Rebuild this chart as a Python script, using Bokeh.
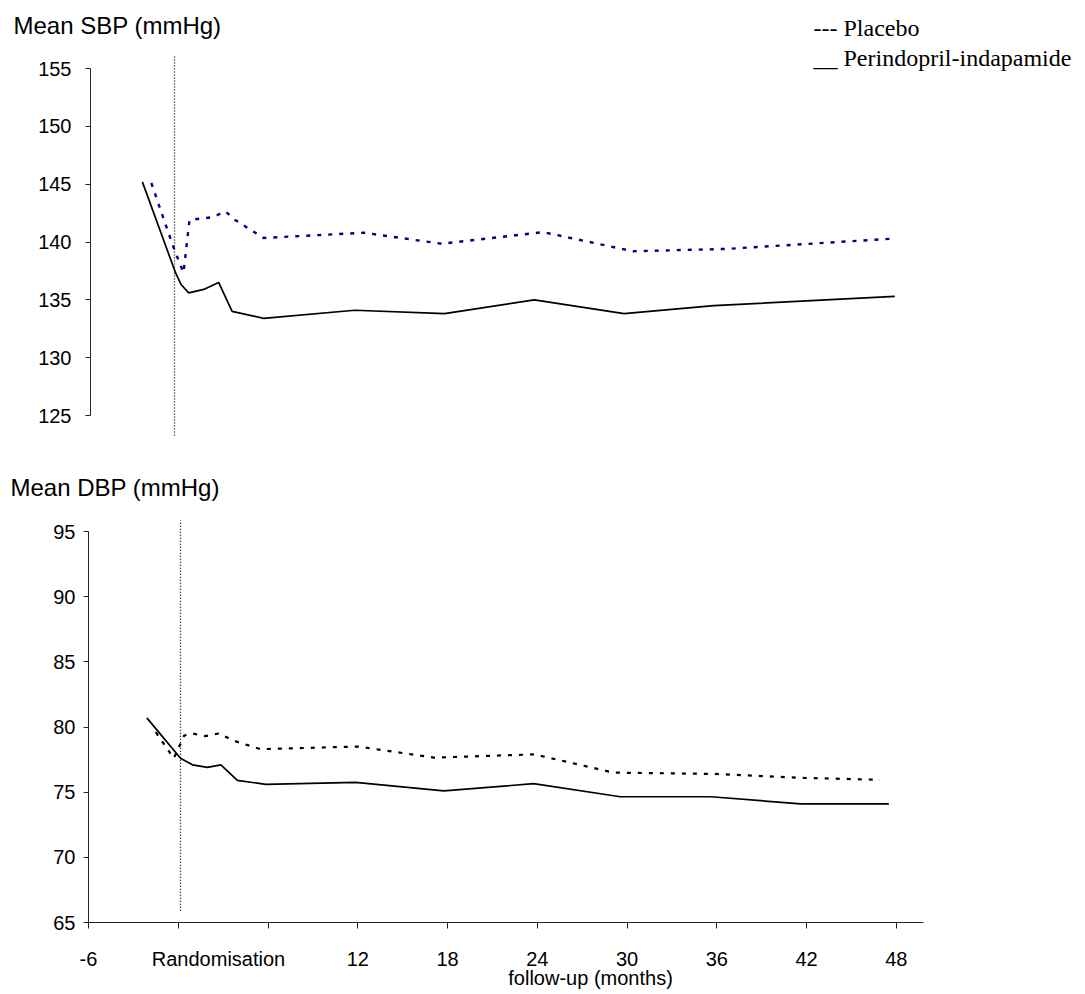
from bokeh.plotting import figure
from bokeh.models import FixedTicker, Label, Range1d, LinearAxis
from bokeh.embed import file_html
from bokeh.resources import INLINE

# ---------------- data ----------------
# Systolic BP (top panel)
sbp_active_x = [-2.4, -0.2, 0.2, 0.7, 1.7, 2.7, 3.6, 5.7, 11.8, 17.8, 23.8, 29.8, 35.8, 47.9]
sbp_active_y = [145.2, 137.4, 136.3, 135.6, 135.9, 136.5, 134.0, 133.4, 134.1, 133.8, 135.0, 133.8, 134.5, 135.3]
sbp_placebo_x = [-1.8, -0.75, -0.25, 0.35, 0.75, 2.3, 3.15, 3.8, 5.7, 12.4, 17.6, 24.4, 30.4, 36.6, 47.9]
sbp_placebo_y = [145.1, 141.15, 139.3, 137.35, 141.9, 142.15, 142.65, 141.9, 140.35, 140.8, 139.85, 140.85, 139.2, 139.4, 140.3]

# Diastolic BP (bottom panel)
dbp_active_x = [-2.1, 0.15, 0.95, 1.95, 2.85, 3.95, 5.85, 11.85, 17.75, 23.75, 29.55, 35.6, 41.6, 47.5]
dbp_active_y = [80.7, 77.6, 77.1, 76.9, 77.1, 75.9, 75.6, 75.75, 75.1, 75.65, 74.65, 74.65, 74.1, 74.1]
dbp_placebo_x = [-1.5, -0.3, 0.4, 0.95, 1.8, 2.7, 3.7, 5.5, 12.0, 17.1, 23.8, 29.1, 35.8, 41.6, 46.9]
dbp_placebo_y = [79.6, 77.6, 79.35, 79.5, 79.3, 79.5, 78.95, 78.3, 78.5, 77.65, 77.9, 76.5, 76.4, 76.1, 75.95]

x_ticks = [-6, 0, 6, 12, 18, 24, 30, 36, 42, 48]
x_label_ticks = [-6, 12, 18, 24, 30, 36, 42, 48]
sbp_ticks = [125, 130, 135, 140, 145, 150, 155]
dbp_ticks = [65, 70, 75, 80, 85, 90, 95]

label_randomisation = "Randomisation"
label_x = "follow-up (months)"
title_sbp = "Mean SBP (mmHg)"
title_dbp = "Mean DBP (mmHg)"
legend_placebo = "---  Placebo"
legend_active = "__ Perindopril-indapamide"

# ---------------- layout constants (page pixels) ----------------
SANS = "Liberation Sans"
SERIF = "Liberation Serif"
W = 1085
PXM = 14.96          # pixels per month
BASE_FIX = 8         # text baseline correction (px)


def month_at(px):
    return -6 + (px - 88) / PXM


RAND_POS = round(month_at(218), 2)
XLAB_POS = round(month_at(590), 2)

# top panel: 155 at y=68, 125 at y=415, frame 44..436
s1 = (415 - 68) / 30.0
y1_hi = 155 + (68 - 44) / s1
y1_lo = 125 - (436 - 415) / s1
# bottom panel: 95 at y=531, 65 at y=922, frame 508..922
s2 = (922 - 531) / 30.0
y2_hi = 95 + (531 - 508) / s2
y2_lo = 65.0


def clean(p):
    p.outline_line_color = None
    p.background_fill_color = "white"
    p.border_fill_color = "white"
    for g in p.grid:
        g.visible = False


def strip(height):
    s = figure(width=W, height=height, x_range=Range1d(0, W), y_range=Range1d(height, 0),
               output_backend="svg", toolbar_location=None, title=None,
               x_axis_location=None, y_axis_location=None, min_border=0)
    clean(s)
    return s


def style_yaxis(p, ticks, bounds, standoff):
    ax = p.yaxis[0]
    ax.ticker = FixedTicker(ticks=ticks)
    ax.bounds = bounds
    ax.minor_tick_line_color = None
    ax.major_tick_in = 0
    ax.major_tick_out = 5
    ax.major_label_standoff = standoff
    ax.major_label_text_font = SANS
    ax.major_label_text_font_size = "20px"
    ax.major_label_text_color = "black"
    ax.axis_line_color = "#222222"
    ax.major_tick_line_color = "#222222"


# ---------------- header strip (0..44) ----------------
h = strip(44)
h.add_layout(Label(x=13, y=33 - BASE_FIX, text=title_sbp, text_font=SANS, text_font_size="24px",
                   text_color="black", text_baseline="alphabetic", text_align="left"))
h.add_layout(Label(x=813, y=35 - BASE_FIX, text=legend_placebo, text_font=SERIF,
                   text_font_size="24px", text_color="black",
                   text_baseline="alphabetic", text_align="left"))

# ---------------- top panel (44..450) ----------------
p1 = figure(width=W, height=406, x_range=Range1d(month_at(90), month_at(W)),
            y_range=Range1d(y1_lo, y1_hi), output_backend="svg", toolbar_location=None,
            title=None, x_axis_location=None,
            min_border_left=90, min_border_right=0, min_border_top=0, min_border_bottom=14)
clean(p1)
style_yaxis(p1, sbp_ticks, (125, 155), 14)

p1.segment(x0=[-0.25], y0=[155 + 12 / s1], x1=[-0.25], y1=[y1_lo],
           line_color="black", line_width=1.3, line_dash="1 2")
p1.line(sbp_active_x, sbp_active_y, line_color="black", line_width=1.7)
p1.line(sbp_placebo_x, sbp_placebo_y, line_color="#000080", line_width=2.4, line_dash="4 7")
p1.add_layout(Label(x=month_at(813), y=155 + (68 - (65 - BASE_FIX)) / s1, text=legend_active,
                    text_font=SERIF, text_font_size="24px", text_color="black",
                    text_baseline="alphabetic", text_align="left"))

# ---------------- middle strip (450..508) ----------------
m = strip(58)
m.add_layout(Label(x=10, y=495 - 450 - BASE_FIX, text=title_dbp, text_font=SANS,
                   text_font_size="24px", text_color="black",
                   text_baseline="alphabetic", text_align="left"))

# ---------------- bottom panel (508..994) ----------------
p2 = figure(width=W, height=486, x_range=Range1d(-6, month_at(923)),
            y_range=Range1d(y2_lo, y2_hi), output_backend="svg", toolbar_location=None,
            title=None, x_axis_location=None,
            min_border_left=88, min_border_right=W - 923, min_border_top=0, min_border_bottom=72)
clean(p2)
style_yaxis(p2, dbp_ticks, (65, 95), 8)

# axis line + tick marks
ax_a = LinearAxis(ticker=FixedTicker(ticks=x_ticks),
                  major_label_overrides={t: "" for t in x_ticks},
                  major_label_text_font_size="1px", major_label_standoff=0,
                  major_tick_in=0, major_tick_out=6, minor_tick_line_color=None,
                  axis_line_color="#222222", major_tick_line_color="#222222")
# tick labels (numbers + Randomisation)
ax_b = LinearAxis(ticker=FixedTicker(ticks=x_label_ticks + [RAND_POS]),
                  major_label_overrides={-6: "-6", RAND_POS: label_randomisation},
                  major_label_text_font=SANS, major_label_text_font_size="20px",
                  major_label_text_color="black", major_label_standoff=19,
                  major_tick_in=0, major_tick_out=0, minor_tick_line_color=None,
                  axis_line_color=None, major_tick_line_color=None)
# axis title
ax_c = LinearAxis(ticker=FixedTicker(ticks=[XLAB_POS]),
                  major_label_overrides={XLAB_POS: label_x},
                  major_label_text_font=SANS, major_label_text_font_size="20px",
                  major_label_text_color="black", major_label_standoff=-6,
                  major_tick_in=0, major_tick_out=0, minor_tick_line_color=None,
                  axis_line_color=None, major_tick_line_color=None)
p2.add_layout(ax_a, "below")
p2.add_layout(ax_b, "below")
p2.add_layout(ax_c, "below")

p2.segment(x0=[0.15], y0=[65.9], x1=[0.15], y1=[95 + (531 - 520) / s2],
           line_color="black", line_width=1.3, line_dash="1 2")
p2.line(dbp_active_x, dbp_active_y, line_color="black", line_width=1.7)
p2.line(dbp_placebo_x, dbp_placebo_y, line_color="black", line_width=2.2, line_dash="4 7")

# separate roots, stacked in the page (keeps each frame independent)
open("out.html", "w").write(file_html([h, p1, m, p2], INLINE))
